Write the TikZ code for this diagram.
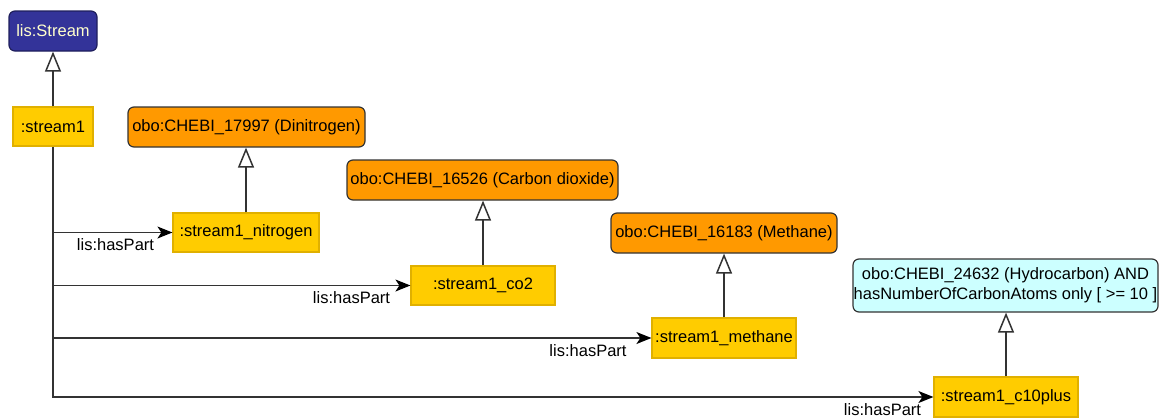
\documentclass[tikz,border=0pt]{standalone}
\usepackage{fontspec}
\setmainfont{Liberation Sans}
\usetikzlibrary{arrows.meta}
\definecolor{navy}{HTML}{333399}
\definecolor{navyb}{HTML}{1F1F5C}
\definecolor{cream}{HTML}{FFFFCC}
\definecolor{orng}{HTML}{FF9900}
\definecolor{yel}{HTML}{FFCC00}
\definecolor{yelb}{HTML}{E0B000}
\definecolor{cyn}{HTML}{CCFFFF}
\definecolor{ln}{HTML}{333333}
\tikzset{
  base/.style={rectangle, inner sep=0pt, font=\fontsize{16.5}{20}\selectfont, line width=1.2pt},
  classbox/.style={base, draw=ln, rounded corners=6pt},
  streamcls/.style={classbox, fill=navy, draw=navyb, text=cream},
  chebi/.style={classbox, fill=orng},
  expr/.style={classbox, fill=cyn, align=center},
  indiv/.style={base, fill=yel, draw=yelb},
  gen/.style={draw=ln, line width=1.5pt, -{Triangle[open, length=20pt, width=16pt, fill=white]}},
  part/.style={draw=ln, line width=1.5pt, -{Stealth[length=15pt, width=12pt, inset=4pt, color=black]}},
  plabel/.style={font=\fontsize{16.5}{18}\selectfont, inner sep=0pt}
}
\begin{document}
\begin{tikzpicture}[x=1pt,y=-1pt]
\useasboundingbox (0,0) rectangle (1161,418);
% nodes
\node[streamcls, minimum width=88pt, minimum height=40pt] (stream) at (53,31) {lis:Stream};
\node[indiv, minimum width=80pt, minimum height=39pt] (s1) at (53,126.5) {:stream1};
\node[chebi, minimum width=237pt, minimum height=40pt] (dinit) at (246.5,127) {obo:CHEBI\_17997 (Dinitrogen)};
\node[indiv, minimum width=146pt, minimum height=39pt] (nit) at (246,232.5) {:stream1\_nitrogen};
\node[chebi, minimum width=271pt, minimum height=40pt] (cdiox) at (482.5,180) {obo:CHEBI\_16526 (Carbon dioxide)};
\node[indiv, minimum width=144pt, minimum height=39pt] (co2) at (483,285.5) {:stream1\_co2};
\node[chebi, minimum width=226pt, minimum height=40pt] (methc) at (724,233) {obo:CHEBI\_16183 (Methane)};
\node[indiv, minimum width=144pt, minimum height=40pt] (meth) at (724,338) {:stream1\_methane};
\node[expr, minimum width=305pt, minimum height=53pt] (hydro) at (1005.5,285.5) {obo:CHEBI\_24632 (Hydrocarbon) AND\\hasNumberOfCarbonAtoms only [ >= 10 ]};
\node[indiv, minimum width=144pt, minimum height=40pt] (c10) at (1006,397) {:stream1\_c10plus};
% generalizations
\draw[gen] (s1.north) -- (s1.north |- stream.south);
\draw[gen] (nit.north) -- (nit.north |- dinit.south);
\draw[gen] (co2.north) -- (co2.north |- cdiox.south);
\draw[gen] (meth.north) -- (meth.north |- methc.south);
\draw[gen] (c10.north) -- (c10.north |- hydro.south);
% hasPart
\draw[part] (s1.south) -- (s1.south |- c10.west) -- (c10.west);
\draw[part] (s1.south |- nit.west) -- (nit.west);
\draw[part] (s1.south |- co2.west) -- (co2.west);
\draw[part] (s1.south |- meth.west) -- (meth.west);
% labels
\node[plabel] (l1) at (115.5,245) {lis:hasPart};
\node[plabel] (l2) at (351.5,298) {lis:hasPart};
\node[plabel] (l3) at (588,351) {lis:hasPart};
\node[plabel] (l4) at (882.5,410) {lis:hasPart};
\end{tikzpicture}
\end{document}
